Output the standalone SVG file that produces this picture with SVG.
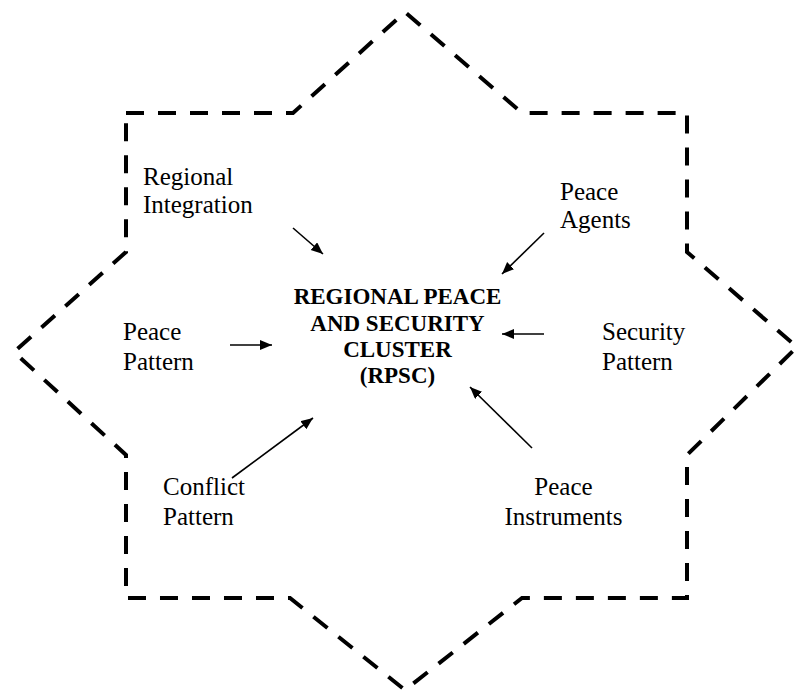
<svg xmlns="http://www.w3.org/2000/svg" width="797" height="691" viewBox="0 0 797 691">
  <defs>
    <marker id="arrowhead" markerUnits="userSpaceOnUse" markerWidth="13" markerHeight="11" refX="12" refY="5" orient="auto">
      <path d="M0,0 L12,5 L0,10 Z" fill="#000"/>
    </marker>
    <style>
      .outline { fill: none; stroke: #000; stroke-width: 4; stroke-dasharray: 18 14; stroke-linejoin: miter; }
      .label { font-family: "Liberation Serif", "Times New Roman", serif; font-size: 25px; fill: #000; }
      .core { font-family: "Liberation Serif", "Times New Roman", serif; font-size: 23px; font-weight: bold; fill: #000; text-anchor: middle; }
      .link { stroke: #000; stroke-width: 1.6; fill: none; marker-end: url(#arrowhead); }
    </style>
  </defs>
  <rect width="797" height="691" fill="#fff"/>

  <!-- eight-pointed star frame -->
  <path class="outline" d="M126,113 L293,113 L405,12 L522,113 L687,113 L687,252 L797,347 L687,455 L687,598 L522,598 L405,690 L290,598 L126,598 L126,455 L14,352 L126,252 Z"/>

  <g id="rpsc">
    <text class="core" x="397.5" y="304">REGIONAL PEACE</text>
    <text class="core" x="397.5" y="331">AND SECURITY</text>
    <text class="core" x="397.5" y="357">CLUSTER</text>
    <text class="core" x="397.5" y="383">(RPSC)</text>
  </g>

  <g id="regional-integration">
    <text class="label" x="143" y="185">Regional</text>
    <text class="label" x="143" y="213">Integration</text>
  </g>

  <g id="peace-agents">
    <text class="label" x="560" y="200">Peace</text>
    <text class="label" x="560" y="228">Agents</text>
  </g>

  <g id="peace-pattern">
    <text class="label" x="123" y="340">Peace</text>
    <text class="label" x="123" y="370">Pattern</text>
  </g>

  <g id="security-pattern">
    <text class="label" x="602" y="340">Security</text>
    <text class="label" x="602" y="370">Pattern</text>
  </g>

  <g id="conflict-pattern">
    <text class="label" x="163" y="495">Conflict</text>
    <text class="label" x="163" y="525">Pattern</text>
  </g>

  <g id="peace-instruments">
    <text class="label" x="563.5" y="495" text-anchor="middle">Peace</text>
    <text class="label" x="563.5" y="525" text-anchor="middle">Instruments</text>
  </g>

  <g id="connectors">
    <line class="link" x1="293" y1="228" x2="323" y2="254"/>
    <line class="link" x1="544" y1="233" x2="502" y2="274"/>
    <line class="link" x1="230" y1="345" x2="272" y2="345"/>
    <line class="link" x1="544" y1="334" x2="502" y2="334"/>
    <line class="link" x1="232" y1="478" x2="313" y2="418"/>
    <line class="link" x1="532" y1="448" x2="470" y2="387"/>
  </g>
</svg>
